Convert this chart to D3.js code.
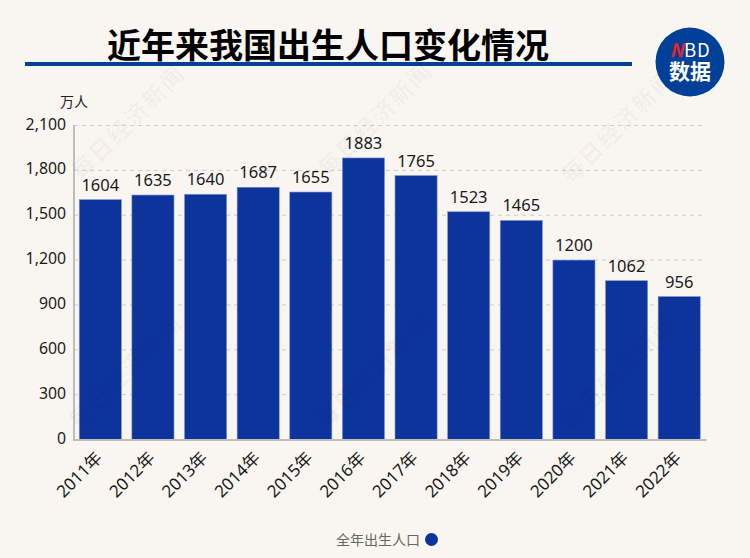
<!DOCTYPE html>
<html>
<head>
<meta charset="utf-8">
<script src="https://cdn.jsdelivr.net/npm/d3@7"></script>
<style>
  html, body { margin: 0; padding: 0; background: #f9f6f1; }
  svg { display: block; }
  text { font-family: "Noto Sans CJK SC", "Noto Sans", sans-serif; }
  .num { font-family: "Noto Sans", "Noto Sans CJK SC", sans-serif; }
</style>
</head>
<body>
<svg id="chart" width="750" height="558"></svg>
<script>
// data
var years = ["2011年", "2012年", "2013年", "2014年", "2015年", "2016年", "2017年", "2018年", "2019年", "2020年", "2021年", "2022年"];
var births = [1604, 1635, 1640, 1687, 1655, 1883, 1765, 1523, 1465, 1200, 1062, 956];
var yTicks = [0, 300, 600, 900, 1200, 1500, 1800, 2100];
var titleText = "近年来我国出生人口变化情况";
var unitText = "万人";
var seriesName = "全年出生人口";
var watermarkText = "每日经济新闻";

var barColor = "#0d349c";
var navy = "#004098";

var svg = d3.select("#chart");

var x = d3.scaleBand().domain(years).range([74, 705.5]).paddingInner(0.2).paddingOuter(0.1);
var y = d3.scaleLinear().domain([0, 2100]).range([439.5, 125.5]);

// title and rule
svg.append("text")
    .attr("x", 328).attr("y", 57.5)
    .attr("text-anchor", "middle")
    .attr("font-size", 34)
    .attr("font-weight", 700)
    .attr("fill", "#000")
    .text(titleText);

svg.append("rect")
    .attr("x", 25).attr("y", 62)
    .attr("width", 607).attr("height", 4)
    .attr("fill", navy);

// logo
var logo = svg.append("g").attr("transform", "translate(690,62)");
logo.append("circle").attr("r", 34.5).attr("fill", navy);
var logoTop = logo.append("text")
    .attr("x", 0).attr("y", -5)
    .attr("text-anchor", "middle")
    .attr("font-family", "Liberation Sans")
    .attr("font-size", 18.5)
    .attr("letter-spacing", 0.8)
    .attr("fill", "#fff");
logoTop.append("tspan").attr("fill", "#e1232f").attr("font-weight", 700).attr("font-style", "italic").text("N");
logoTop.append("tspan").text("BD");
logo.append("text")
    .attr("x", 0).attr("y", 17)
    .attr("text-anchor", "middle")
    .attr("font-size", 21)
    .attr("font-weight", 700)
    .attr("fill", "#fff")
    .text("数据");

// grid
svg.append("g").selectAll("line")
    .data(yTicks.filter(function (d) { return d > 0; }))
    .enter()
    .append("line")
    .attr("x1", 74).attr("x2", 703)
    .attr("y1", function (d) { return y(d); })
    .attr("y2", function (d) { return y(d); })
    .attr("stroke", "#cfcdca")
    .attr("stroke-dasharray", "4 4");

// y axis
var yAxis = svg.append("g")
    .attr("transform", "translate(74,-1.5)")
    .call(d3.axisLeft(y).tickValues(yTicks).tickSize(0).tickPadding(8).tickFormat(d3.format(",")));
yAxis.select(".domain").remove();
yAxis.selectAll("text")
    .attr("class", "num")
    .attr("font-size", 15.8)
    .attr("fill", "#1a1a1a");

svg.append("text")
    .attr("x", 74).attr("y", 106.5)
    .attr("text-anchor", "middle")
    .attr("font-size", 14)
    .attr("fill", "#222")
    .text(unitText);

// bars
svg.append("g").selectAll("rect")
    .data(births)
    .enter()
    .append("rect")
    .attr("x", function (d, i) { return x(years[i]); })
    .attr("y", function (d) { return y(d); })
    .attr("width", x.bandwidth())
    .attr("height", function (d) { return y(0) - y(d); })
    .attr("fill", barColor)
    .attr("stroke", "#7f93c8")
    .attr("stroke-width", 0.6);

svg.append("g").selectAll("text")
    .data(births)
    .enter()
    .append("text")
    .attr("class", "num")
    .attr("x", function (d, i) { return x(years[i]) + x.bandwidth() / 2; })
    .attr("y", function (d) { return y(d) - 9; })
    .attr("text-anchor", "middle")
    .attr("font-size", 16.5)
    .attr("fill", "#1a1a1a")
    .text(function (d) { return d; });

// axis lines
svg.append("line").attr("x1", 74).attr("x2", 74).attr("y1", 125).attr("y2", 440)
    .attr("stroke", "#c0bebd").attr("stroke-width", 2);
svg.append("line").attr("x1", 73).attr("x2", 706.5).attr("y1", 440).attr("y2", 440)
    .attr("stroke", "#c0bebd").attr("stroke-width", 2);

// x labels
var xAxis = svg.append("g")
    .attr("transform", "translate(0,440)")
    .call(d3.axisBottom(x).tickSize(0).tickPadding(0));
xAxis.select(".domain").remove();
xAxis.selectAll("text")
    .attr("class", "num")
    .attr("font-size", 17)
    .attr("fill", "#1a1a1a")
    .attr("text-anchor", "end")
    .attr("dy", 0)
    .attr("transform", function (d) {
        return "translate(3,19) rotate(-45)";
    });

// legend
svg.append("text")
    .attr("x", 420).attr("y", 545)
    .attr("text-anchor", "end")
    .attr("font-size", 14)
    .attr("fill", "#666")
    .text(seriesName);
svg.append("circle")
    .attr("cx", 431.5).attr("cy", 539.5).attr("r", 6.5)
    .attr("fill", barColor);

// watermarks sit faintly over everything
[[127, 121], [374, 118], [617, 125], [124, 370], [372, 370], [618, 371]].forEach(function (p) {
    svg.append("text")
        .attr("transform", "translate(" + p[0] + "," + p[1] + ") rotate(-45)")
        .attr("text-anchor", "middle")
        .attr("dominant-baseline", "central")
        .attr("font-size", 23)
        .attr("font-weight", 700)
        .attr("letter-spacing", 2)
        .attr("fill", "#000")
        .attr("fill-opacity", 0.04)
        .text(watermarkText);
});
</script>
</body>
</html>
